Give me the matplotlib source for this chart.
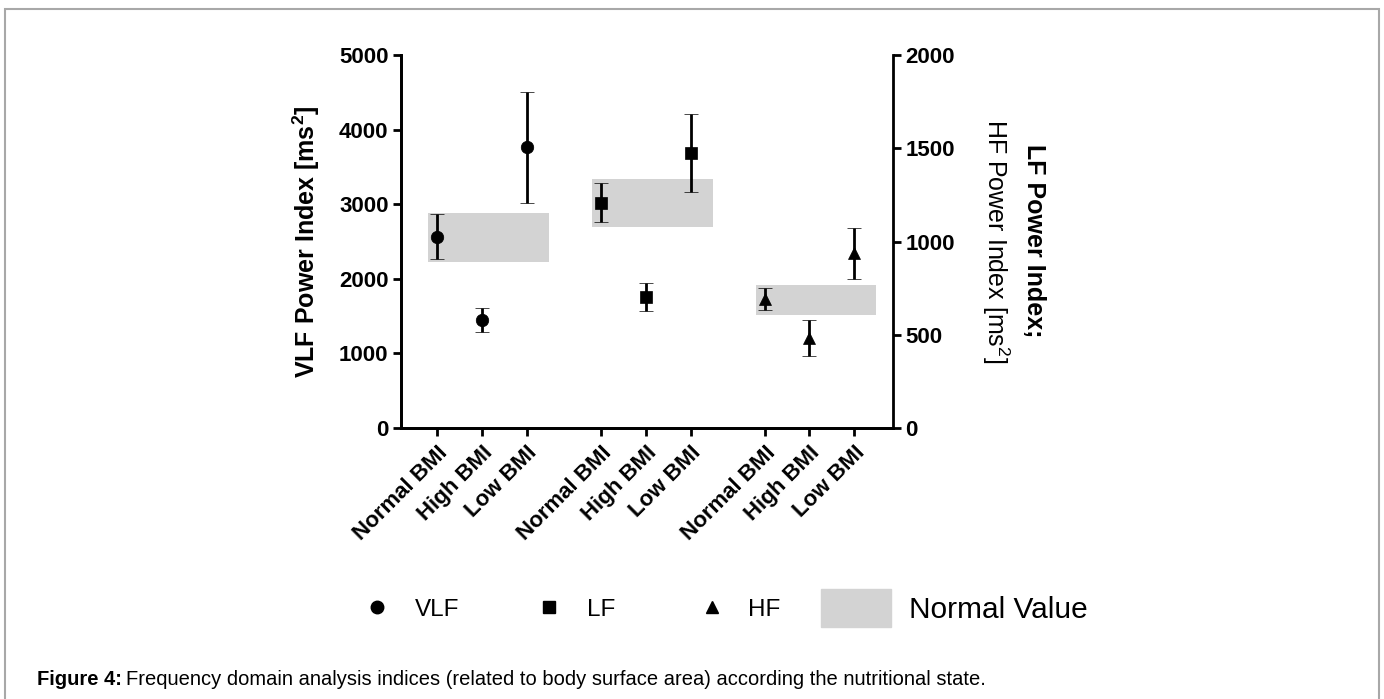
import matplotlib
matplotlib.use("Agg")
import matplotlib.pyplot as plt
from matplotlib.lines import Line2D
from matplotlib.patches import Rectangle

plt.rcParams["font.family"] = "Liberation Sans"
plt.rcParams["mathtext.fontset"] = "custom"
plt.rcParams["mathtext.rm"] = "Liberation Sans"
plt.rcParams["mathtext.bf"] = "Liberation Sans:bold"

# values (mean +/- error)
groups = ["Normal BMI", "High BMI", "Low BMI"]
vlf_mean = [2567, 1442, 3763]
vlf_err = [308, 160, 741]
lf_mean = [1209, 702, 1477]
lf_err = [103, 74, 209]
hf_mean = [691, 482, 938]
hf_err = [60, 95, 137]

# normal value ranges (grey bands)
vlf_normal = (2223, 2884)
lf_normal = (1079, 1336)
hf_normal = (605, 768)

W, H = 1384, 699


def fx(px):
    return px / W


def fy(py):
    return 1 - py / H


fig = plt.figure(figsize=(W / 100, H / 100), dpi=100)

ax = fig.add_axes([fx(401), fy(428), 492 / W, 373 / H])
ax2 = ax.twinx()

group_starts = [1, 4.67, 8.33]
series = [
    (ax, vlf_mean, vlf_err, vlf_normal, "o"),
    (ax2, lf_mean, lf_err, lf_normal, "s"),
    (ax2, hf_mean, hf_err, hf_normal, "^"),
]

positions = []
for start, (a, mean, err, normal, mk) in zip(group_starts, series):
    pos = [start + i for i in range(len(mean))]
    positions += pos
    a.fill_between([start - 0.2, start + 2.5], normal[0], normal[1],
                   color="#d3d3d3", lw=0, zorder=0)
    a.errorbar(pos, mean, yerr=err, fmt=mk, color="black", ms=9, mew=0.5,
               elinewidth=2, capsize=4.7, capthick=2, zorder=3)

ax.set_xlim(0.19, 11.2)
ax.set_ylim(0, 5000)
ax2.set_ylim(0, 2000)
ax.set_yticks([0, 1000, 2000, 3000, 4000, 5000])
ax2.set_yticks([0, 500, 1000, 1500, 2000])
ax.set_xticks(positions)
ax.set_xticklabels(groups * 3, rotation=45, ha="right", rotation_mode="anchor",
                   fontsize=16, fontweight="bold")

for a in (ax, ax2):
    a.spines["top"].set_visible(False)
    for s in a.spines.values():
        s.set_linewidth(2)
    a.tick_params(width=2, length=6, labelsize=16)
ax.spines["right"].set_visible(False)
ax.tick_params(axis="x", pad=4)
ax.tick_params(axis="y", pad=3)
ax2.tick_params(axis="y", pad=3)
plt.setp(ax.get_yticklabels(), fontweight="bold")
plt.setp(ax2.get_yticklabels(), fontweight="bold")

ax.set_ylabel(r"VLF Power Index [ms$^{\mathbf{2}}$]", fontsize=18, fontweight="bold")
ax.yaxis.set_label_coords(-0.16, 0.5)

fig.text(fx(1034), fy(241), "LF Power Index;", rotation=270, fontsize=18,
         fontweight="bold", ha="center", va="center")
fig.text(fx(996), fy(241), r"HF Power Index [ms$^{2}$]", rotation=270, fontsize=18,
         ha="center", va="center")

# legend
legend_y = 607
for mx, tx, mk, label in [(377, 415, "o", "VLF"), (549, 587, "s", "LF"), (712, 748, "^", "HF")]:
    fig.add_artist(Line2D([fx(mx)], [fy(legend_y)], marker=mk, color="black", ms=9,
                          linestyle="none", transform=fig.transFigure))
    fig.text(fx(tx), fy(legend_y + 8.5), label, fontsize=17.5, va="baseline")
fig.add_artist(Rectangle((fx(821), fy(627)), 70 / W, 38 / H, color="#d3d3d3",
                         transform=fig.transFigure))
fig.text(fx(909), fy(618), "Normal Value", fontsize=21.5, va="baseline")

# caption: bold prefix followed by regular text
cap_bold = fig.text(fx(37), fy(685), "Figure 4:", fontsize=14.5, fontweight="bold",
                    va="baseline")
renderer = fig.canvas.get_renderer()
x_end = cap_bold.get_window_extent(renderer).x1
fig.text((x_end + 4) / W, fy(685),
         "Frequency domain analysis indices (related to body surface area) according the nutritional state.",
         fontsize=14.5, va="baseline")

fig.add_artist(Rectangle((fx(5), -0.1), (1379 - 5) / W, fy(9) + 0.1, fill=False,
                         edgecolor="#a8a8a8", lw=1.5, transform=fig.transFigure))

fig.savefig("out.png", dpi=100)
